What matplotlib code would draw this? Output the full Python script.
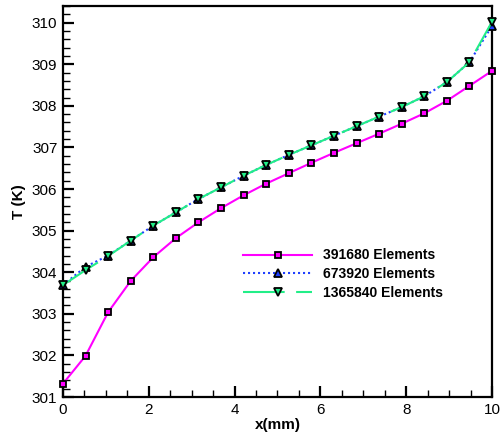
import numpy as np
import matplotlib
matplotlib.use("Agg")
import matplotlib.pyplot as plt
from matplotlib.ticker import MultipleLocator

# 沿 x 方向的温度分布，三种网格数对比
x_mm = [0.0, 0.526, 1.053, 1.579, 2.105, 2.632, 3.158, 3.684, 4.211, 4.737,
        5.263, 5.789, 6.316, 6.842, 7.368, 7.895, 8.421, 8.947, 9.474, 10.0]

T_391680 = [301.32, 301.99, 303.04, 303.79, 304.36, 304.82, 305.20, 305.54,
            305.85, 306.13, 306.38, 306.63, 306.87, 307.10, 307.33, 307.57,
            307.82, 308.12, 308.48, 308.84]
T_673920 = [303.69, 304.13, 304.40, 304.76, 305.12, 305.44, 305.76, 306.04,
            306.32, 306.58, 306.82, 307.05, 307.28, 307.51, 307.74, 307.97,
            308.23, 308.57, 309.05, 309.92]
T_1365840 = [303.69, 304.05, 304.39, 304.76, 305.12, 305.44, 305.76, 306.04,
             306.32, 306.58, 306.82, 307.05, 307.28, 307.51, 307.74, 307.97,
             308.23, 308.57, 309.05, 310.02]

labels = ["391680 Elements", "673920 Elements", "1365840 Elements"]

plt.rcParams.update({
    "font.family": ["Liberation Sans", "DejaVu Sans"],
    "font.size": 11,
    "axes.linewidth": 1.6,
    "xtick.direction": "in",
    "ytick.direction": "in",
    "xtick.major.size": 8,
    "ytick.major.size": 8,
    "xtick.minor.size": 5,
    "ytick.minor.size": 5,
    "xtick.major.width": 1.6,
    "ytick.major.width": 1.6,
    "xtick.minor.width": 1.0,
    "ytick.minor.width": 1.0,
})

fig = plt.figure(figsize=(5.01, 4.38), dpi=100)
ax = fig.add_axes([0.1257, 0.0936, 0.8563, 0.8927])

ax.plot(x_mm, T_391680, color="#ff00ff", lw=1.5, ls="-",
        marker="s", ms=5, mfc="#ff00ff", mec="black", mew=1.3,
        clip_on=False, zorder=3, label=labels[0])
ax.plot(x_mm, T_673920, color="#2040ff", lw=1.5, ls=(0, (1, 1.4)),
        marker="^", ms=5.5, mfc="#2040ff", mec="black", mew=1.3,
        clip_on=False, zorder=4, label=labels[1])
ax.plot(x_mm, T_1365840, color="#22ee88", lw=1.5, ls=(0, (20, 5.5)),
        marker="v", ms=5.5, mfc="#22ee88", mec="black", mew=1.3,
        clip_on=False, zorder=5, label=labels[2])

ax.set_xlim(0, 10)
ax.set_ylim(301, 310.4)
ax.xaxis.set_major_locator(MultipleLocator(2))
ax.xaxis.set_minor_locator(MultipleLocator(0.5))
ax.yaxis.set_major_locator(MultipleLocator(1))
ax.yaxis.set_minor_locator(MultipleLocator(0.2))
ax.tick_params(which="both", top=False, right=False)
ax.tick_params(axis="both", which="major", labelsize=11, pad=4)

ax.set_xlabel("x(mm)", fontsize=11, fontweight="bold", labelpad=1)
ax.set_ylabel("T (K)", fontsize=11, fontweight="bold", labelpad=4)

leg = ax.legend(loc="upper left", bbox_to_anchor=(0.39, 0.412),
                frameon=False, handlelength=5.0, handletextpad=0.8,
                labelspacing=0.35, numpoints=1,
                prop={"weight": "bold", "size": 10})

fig.savefig("out.png", dpi=100)
